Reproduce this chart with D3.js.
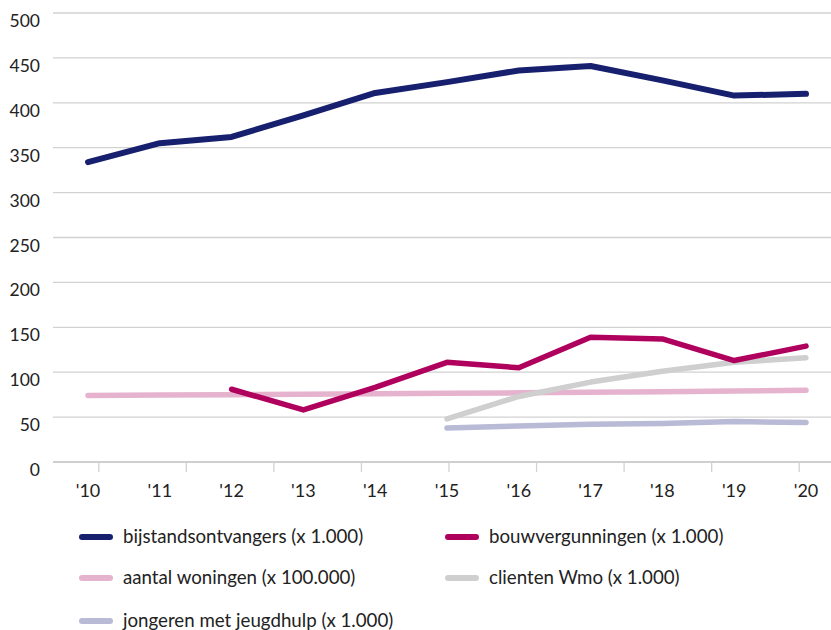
<!DOCTYPE html>
<html><head><meta charset="utf-8">
<script src="https://cdn.jsdelivr.net/npm/d3@7"></script>
<style>body{margin:0;background:#fff}svg{display:block}text{font-family:Lato,"Open Sans",sans-serif;fill:#222}</style>
</head><body><svg id="c" width="831" height="630"></svg>
<script>
const years = [2010,2011,2012,2013,2014,2015,2016,2017,2018,2019,2020];
const yearLabels = ["'10","'11","'12","'13","'14","'15","'16","'17","'18","'19","'20"];
const yTicks = [0,50,100,150,200,250,300,350,400,450,500];
const bijstand = [334,355,362,386,411,423,436,441,425,408,410];
const bouw = [null,null,81,58,83,111,105,139,137,113,129];
const woningen = [74,74.5,75,75.5,76,76.5,77,77.6,78.3,79,79.8];
const wmo = [null,null,null,null,null,48,73,89,101,111,116];
const jeugd = [null,null,null,null,null,38,40,42,43,45,44];
const seriesNames = ["bijstandsontvangers (x 1.000)","bouwvergunningen (x 1.000)","aantal woningen (x 100.000)","clienten Wmo (x 1.000)","jongeren met jeugdhulp (x 1.000)"];
const colors = ["#17206e","#b0005e","#e6b3ce","#cfcfcf","#b8bad6"];
const tickMarkCount = 9;

const svg = d3.select("#c");
const x = d3.scaleLinear().domain([2010,2020]).range([88,806]);
const y = d3.scaleLinear().domain([0,500]).range([462,13]);
const xt = d3.scaleLinear().domain([0,tickMarkCount]).range([55,843]);

// gridlines
svg.append("g").selectAll("line").data(yTicks).join("line")
  .attr("x1",53).attr("x2",831).attr("y1",d=>y(d)).attr("y2",d=>y(d))
  .attr("stroke",d=>d===0?"#cfcfcf":"#d2d2d2").attr("stroke-width",d=>d===0?2:1.3);
svg.append("g").selectAll("text").data(yTicks).join("text")
  .attr("x",40).attr("y",d=>y(d)+14).attr("text-anchor","end")
  .style("font-size","17.5px").text(d=>d);
// x tick marks
svg.append("g").selectAll("line").data(d3.range(tickMarkCount)).join("line")
  .attr("x1",d=>xt(d+0.5)).attr("x2",d=>xt(d+0.5)).attr("y1",462).attr("y2",472)
  .attr("stroke","#d2d2d2").attr("stroke-width",1.3);
svg.append("g").selectAll("text").data(years).join("text")
  .attr("x",d=>x(d)).attr("y",497).attr("text-anchor","middle")
  .style("font-size","18px").text((d,i)=>yearLabels[i]);

const allSeries = [woningen,jeugd,wmo,bouw,bijstand];
const colIdx = [2,4,3,1,0];
const line = d3.line().defined(d=>d!=null).x((d,i)=>x(years[i])).y(d=>y(d));
allSeries.forEach((s,k)=>{
  svg.append("path").attr("d",line(s)).attr("fill","none")
    .attr("stroke",colors[colIdx[k]]).attr("stroke-width",colIdx[k]===0?6:5.5)
    .attr("stroke-linecap","round").attr("stroke-linejoin","round");
});

// legend
const legPos = [[80,537],[446,537],[80,578],[446,578],[80,621]];
seriesNames.forEach((n,i)=>{
  const [lx,ly] = legPos[i];
  svg.append("line").attr("x1",lx+2).attr("x2",lx+30).attr("y1",ly).attr("y2",ly)
    .attr("stroke",colors[i]).attr("stroke-width",6).attr("stroke-linecap","round");
  svg.append("text").attr("x",lx+43).attr("y",ly+6).style("font-size","18.7px").text(n);
});
</script></body></html>
